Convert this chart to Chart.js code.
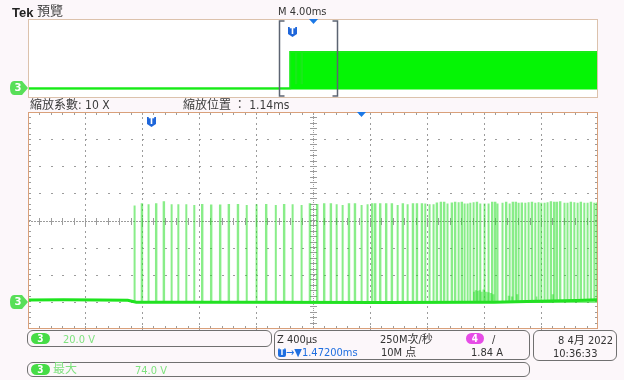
<!DOCTYPE html>
<html>
<head>
<meta charset="utf-8">
<script src="https://cdn.jsdelivr.net/npm/chart.js@4.4.0/dist/chart.umd.min.js"></script>
<style>
  html, body { margin: 0; padding: 0; }
  body {
    width: 624px; height: 380px; position: relative; overflow: hidden;
    background: #fcf7fa; color: #333;
    font-family: "DejaVu Sans Condensed", "DejaVu Sans", "Noto Sans CJK TC", sans-serif;
    font-size: 11px;
  }
  canvas { position: absolute; left: 0; top: 0; }
  .t { position: absolute; white-space: nowrap; line-height: 1; }
  .box { position: absolute; box-sizing: border-box; border: 1px solid #707070; border-radius: 6px; }
  .pill { position: absolute; box-sizing: border-box; border-radius: 6px; color: #fff;
          text-align: center; font-weight: bold; font-size: 10px; line-height: 11px; }
  .g { color: #7fe27f; }
  .b { color: #1f6fe0; }
  .cjk { font-family: "Noto Sans CJK TC", sans-serif; }
</style>
</head>
<body>
<canvas id="overview" width="624" height="380"></canvas>
<canvas id="zoom" width="624" height="380"></canvas>

<!-- header -->
<div class="t" style="left:12px;top:5px;font:bold 13px 'Liberation Sans',sans-serif;color:#222">Tek</div>
<div class="t cjk" style="left:37px;top:3px;font-size:13px;color:#444">預覽</div>
<div class="t" style="left:278px;top:6px;font-size:11px">M 4.00ms</div>
<div class="t" style="left:30px;top:98px;font-size:12px;color:#3c3c3c"><span class="cjk">縮放系數</span>: 10 X</div>
<div class="t" style="left:183px;top:98px;font-size:12px;color:#3c3c3c"><span class="cjk">縮放位置 ：</span> 1.14ms</div>

<!-- status bar -->
<div class="box" style="left:27px;top:330px;width:245px;height:17px"></div>
<div class="pill" style="left:31px;top:333px;width:19px;height:11px;background:#46dc46">3</div>
<div class="t g" style="left:63px;top:334px">20.0 V</div>

<div class="box" style="left:274px;top:330px;width:256px;height:30px"></div>
<div class="t" style="left:277px;top:334px">Z 400µs</div>
<div class="t" style="left:380px;top:333px">250M<span class="cjk">次</span>/<span class="cjk">秒</span></div>
<div class="pill" style="left:466px;top:333px;width:18px;height:11px;background:#e64ce6">4</div>
<div class="t" style="left:492px;top:334px">/</div>
<div class="pill" style="left:278px;top:348px;width:8px;height:9px;border-radius:2px;background:#1f6fe0;font-size:8px;line-height:9px">T</div>
<div class="t b" style="left:286px;top:347px">→▼1.47200ms</div>
<div class="t" style="left:381px;top:346px">10M <span class="cjk">点</span></div>
<div class="t" style="left:471px;top:347px">1.84 A</div>

<div class="box" style="left:533px;top:330px;width:84px;height:31px"></div>
<div class="t" style="left:558px;top:334px">8 4<span class="cjk">月</span> 2022</div>
<div class="t" style="left:553px;top:348px">10:36:33</div>

<div class="box" style="left:27px;top:362px;width:503px;height:15px"></div>
<div class="pill" style="left:31px;top:364px;width:19px;height:11px;background:#46dc46">3</div>
<div class="t g cjk" style="left:53px;top:362px;font-size:12px">最大</div>
<div class="t g" style="left:135px;top:365px">74.0 V</div>

<script>
// ---- values ----
// zoom window: 400 us/div over 10 div; channel 3 at 20 V/div, ground 3 div below centre
const zoomMin = 0, zoomMax = 4000, zoomDiv = 400;          // us
const voltMin = -20, voltMax = 140, voltDiv = 20;           // V
// rising edges of the pulses in the zoom window (us)
const pulseTimes = [746, 798, 844, 898, 952, 1006, 1053, 1109, 1165, 1221, 1284, 1347, 1408,
  1472, 1533, 1602, 1670, 1737, 1796, 1855, 1918, 1977, 2028, 2077, 2124, 2164, 2206, 2251,
  2293, 2339, 2381, 2414, 2435, 2470, 2512, 2552, 2592, 2629, 2662, 2700, 2728, 2763, 2786,
  2816, 2844, 2868, 2896, 2919, 2942, 2973, 2996, 3020, 3043, 3062, 3083, 3102, 3125, 3149,
  3172, 3202, 3230, 3256, 3277, 3293, 3328, 3354, 3378, 3401, 3422, 3441, 3464, 3488, 3511,
  3535, 3558, 3581, 3600, 3623, 3644, 3668, 3691, 3710, 3733, 3763, 3784, 3808, 3832, 3855,
  3878, 3902, 3925, 3949, 3972, 3991];
// pulse tops (V)
const pulseVolts = [71, 72, 72, 72, 73.4, 72, 72, 72, 71.5, 71.5, 71, 71, 71.5,
  71.5, 71.5, 72, 71.5, 71.5, 71.5, 72, 71.5, 72, 71.5, 72, 72, 72, 71.5, 72,
  72, 71.5, 72, 72, 72, 72, 72, 72, 71.5, 72, 72, 72, 72, 72, 72.5,
  72, 72, 72.5, 73, 73, 72.5, 72.5, 73, 73.5, 73, 72.5, 72.5, 73, 73.5, 73,
  72.5, 72.5, 72.5, 73, 73, 72.5, 73, 73, 72.5, 73, 73, 73, 72.5, 73, 73.5,
  73, 73, 73.5, 73, 73, 73.5, 73.5, 73, 73, 73.5, 73, 73, 73, 73.5, 73,
  73, 73, 73, 73, 73, 72.5];
// trace between pulses (us, V)
const baseTimes = [0, 250, 500, 700, 760, 1500, 2500, 3120, 3270, 3500, 3850, 4000];
const baseVolts = [1.3, 1.6, 1.4, 1.2, -0.2, -0.3, -0.4, -0.3, -0.3, 0.3, 1.0, 1.5];
// small runt bumps on the baseline (us, V)
const runtTimes = [3128, 3140, 3152, 3166, 3180, 3195, 3212, 3228, 3246, 3262, 3372, 3394, 3430, 3565, 3680];
const runtVolts = [7, 8, 7.5, 8, 7, 8.5, 7, 6.5, 6, 5, 4, 3.5, 5, 4, 5];
const trigZoom = 865, expandZoom = 2335;                   // us, marker positions

// overview record: 4 ms/div over 10 div
const ovMin = 0, ovMax = 40;                                // ms
const ovTimes = [0, 18.40, 18.40, 18.80, 18.80, 18.83, 18.83, 19.20, 19.20, 19.23, 19.23, 40];
const ovVolts = [0, 0, 73, 73, 10, 10, 73, 73, 10, 10, 73, 73];
const ovWindow = [17.64, 21.66];                            // ms, bracket of zoom window
const trigOv = 18.53, expandOv = 20;                        // ms

// ---- drawing helpers ----
function channelTag(ctx, yc) {
  ctx.fillStyle = '#58df58';
  ctx.beginPath();
  ctx.moveTo(14, yc - 7);
  ctx.lineTo(22, yc - 7);
  ctx.lineTo(28, yc);
  ctx.lineTo(22, yc + 7);
  ctx.lineTo(14, yc + 7);
  ctx.quadraticCurveTo(10, yc + 7, 10, yc);
  ctx.quadraticCurveTo(10, yc - 7, 14, yc - 7);
  ctx.fill();
  ctx.fillStyle = '#fff';
  ctx.font = 'bold 10px "DejaVu Sans", sans-serif';
  ctx.textAlign = 'center';
  ctx.textBaseline = 'middle';
  ctx.fillText('3', 18, yc + 0.5);
}

function trigBadge(ctx, x, top) {
  ctx.fillStyle = '#1e66da';
  ctx.beginPath();
  ctx.moveTo(x - 4.5, top);
  ctx.lineTo(x + 4.5, top);
  ctx.lineTo(x + 4.5, top + 7);
  ctx.lineTo(x, top + 10);
  ctx.lineTo(x - 4.5, top + 7);
  ctx.closePath();
  ctx.fill();
  ctx.fillStyle = '#fff';
  ctx.font = 'bold 8px "DejaVu Sans", sans-serif';
  ctx.textAlign = 'center';
  ctx.textBaseline = 'middle';
  ctx.fillText('T', x, top + 4.5);
}

function expandMark(ctx, x, top) {
  ctx.fillStyle = '#1b78e6';
  ctx.beginPath();
  ctx.moveTo(x - 4.5, top);
  ctx.lineTo(x + 4.5, top);
  ctx.lineTo(x, top + 5);
  ctx.closePath();
  ctx.fill();
}

// graticule, border and markers of a scope panel
const scopePanel = {
  id: 'scopePanel',
  beforeDatasetsDraw(chart, _args, o) {
    const ctx = chart.ctx, a = chart.chartArea, x = chart.scales.x, y = chart.scales.y;
    ctx.save();
    ctx.fillStyle = '#ffffff';
    ctx.fillRect(a.left, a.top, a.right - a.left, a.bottom - a.top);
    if (o.xDiv) {
      const xs = [], ys = [];
      for (let t = x.min; t <= x.max + 1e-6; t += o.xDiv) xs.push(Math.round(x.getPixelForValue(t)));
      for (let v = y.max; v >= y.min - 1e-6; v -= o.yDiv) ys.push(Math.round(y.getPixelForValue(v)));
      const mx = (xs[1] - xs[0]) / 5, my = (ys[1] - ys[0]) / 5;
      const cx = xs[Math.floor(xs.length / 2)], cy = ys[Math.floor(ys.length / 2)];
      ctx.fillStyle = '#9c9c9c';
      // dotted division lines
      xs.slice(1, -1).forEach(function (px) {
        if (px === cx) return;
        for (let py = a.top + my; py < a.bottom - 1; py += my) ctx.fillRect(px, Math.round(py), 1, 2);
      });
      ys.slice(1, -1).forEach(function (py) {
        if (py === cy) return;
        for (let px = a.left + mx; px < a.right - 1; px += mx) ctx.fillRect(Math.round(px), py, 2, 1);
      });
      // centre lines with minor ticks
      for (let py = a.top; py < a.bottom; py += 2) ctx.fillRect(cx, py, 1, 1);
      for (let px = a.left; px < a.right; px += 3) ctx.fillRect(px, cy, 2, 1);
      for (let py = a.top + my; py < a.bottom - 1; py += my) ctx.fillRect(cx - 3, Math.round(py), 7, 1);
      for (let px = a.left + mx; px < a.right - 1; px += mx) ctx.fillRect(Math.round(px), cy - 3, 1, 7);
      // edge ticks
      for (let py = a.top + my; py < a.bottom - 1; py += my) {
        ctx.fillRect(a.left, Math.round(py), 3, 1);
        ctx.fillRect(a.right - 3, Math.round(py), 3, 1);
      }
      for (let px = a.left + mx; px < a.right - 1; px += mx) {
        ctx.fillRect(Math.round(px), a.top, 1, 3);
        ctx.fillRect(Math.round(px), a.bottom - 3, 1, 3);
      }
    }
    ctx.restore();
  },
  afterDatasetsDraw(chart, _args, o) {
    const ctx = chart.ctx, a = chart.chartArea, x = chart.scales.x, y = chart.scales.y;
    ctx.save();
    ctx.strokeStyle = o.border;
    ctx.lineWidth = 1;
    ctx.strokeRect(a.left + 0.5, a.top + 0.5, a.right - a.left - 1, a.bottom - a.top - 1);
    if (o.window) {
      const l = Math.round(x.getPixelForValue(o.window[0])) + 0.5;
      const r = Math.round(x.getPixelForValue(o.window[1])) + 0.5;
      ctx.strokeStyle = '#5c6472';
      ctx.lineWidth = 1.5;
      ctx.beginPath();
      ctx.moveTo(l + 5, a.top + 2); ctx.lineTo(l, a.top + 2); ctx.lineTo(l, a.bottom - 2); ctx.lineTo(l + 5, a.bottom - 2);
      ctx.moveTo(r - 5, a.top + 2); ctx.lineTo(r, a.top + 2); ctx.lineTo(r, a.bottom - 2); ctx.lineTo(r - 5, a.bottom - 2);
      ctx.stroke();
    }
    expandMark(ctx, Math.round(x.getPixelForValue(o.expand)) + 0.5, a.top);
    trigBadge(ctx, Math.round(x.getPixelForValue(o.trig)) + 0.5, a.top + o.trigTop);
    channelTag(ctx, Math.round(y.getPixelForValue(0)));
    ctx.restore();
  },
};

function hiddenScales(xMin, xMax) {
  return {
    x: { type: 'linear', min: xMin, max: xMax, display: false },
    y: { type: 'linear', min: voltMin, max: voltMax, display: false },
  };
}

// ---- overview ----
const ovPoints = ovTimes.map(function (t, i) { return { x: t, y: ovVolts[i] }; });
new Chart(document.getElementById('overview'), {
  type: 'line',
  data: {
    datasets: [{
      data: ovPoints,
      borderColor: '#18ea18',
      backgroundColor: '#05f505',
      borderWidth: 2,
      pointRadius: 0,
      fill: { value: -3 },
    }],
  },
  options: {
    responsive: false, animation: false, events: [],
    layout: { padding: { left: 28, top: 19, right: 26, bottom: 282 } },
    plugins: {
      legend: { display: false }, tooltip: { enabled: false },
      scopePanel: { border: '#dcc2ac', window: ovWindow, trig: trigOv, trigTop: 8, expand: expandOv },
    },
    scales: hiddenScales(ovMin, ovMax),
  },
  plugins: [scopePanel],
});

// ---- zoom window ----
function spikes(times, volts, width) {
  const pts = [];
  times.forEach(function (t, i) {
    pts.push({ x: t, y: 0 }, { x: t, y: volts[i] }, { x: t + width, y: volts[i] }, { x: t + width, y: 0 });
  });
  return pts;
}
const basePoints = baseTimes.map(function (t, i) { return { x: t, y: baseVolts[i] }; });

new Chart(document.getElementById('zoom'), {
  type: 'line',
  data: {
    datasets: [
      { data: spikes(pulseTimes, pulseVolts, 3), borderColor: 'rgba(40,222,40,0.55)', borderWidth: 2, pointRadius: 0 },
      { data: spikes(runtTimes, runtVolts, 6), borderColor: 'rgba(40,222,40,0.5)', borderWidth: 1.5, pointRadius: 0 },
      { data: basePoints, borderColor: '#1ee41e', borderWidth: 3, pointRadius: 0 },
    ],
  },
  options: {
    responsive: false, animation: false, events: [],
    layout: { padding: { left: 28, top: 112, right: 26, bottom: 51 } },
    plugins: {
      legend: { display: false }, tooltip: { enabled: false },
      scopePanel: { border: '#d9a07a', xDiv: zoomDiv, yDiv: voltDiv, trig: trigZoom, trigTop: 5, expand: expandZoom },
    },
    scales: hiddenScales(zoomMin, zoomMax),
  },
  plugins: [scopePanel],
});
</script>
</body>
</html>
